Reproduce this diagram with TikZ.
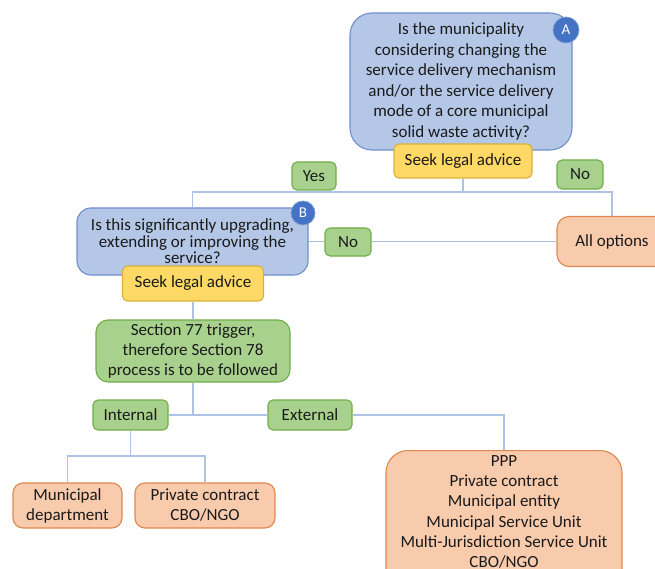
\documentclass[tikz,border=0pt]{standalone}
\usepackage{fontspec}
\setmainfont{Carlito}
\usetikzlibrary{backgrounds}
\definecolor{bfill}{HTML}{B4C7E7}
\definecolor{bdraw}{HTML}{6F8FCB}
\definecolor{cfill}{HTML}{4472C4}
\definecolor{yfill}{HTML}{FFD966}
\definecolor{ydraw}{HTML}{D9AE3A}
\definecolor{gfill}{HTML}{A9D18E}
\definecolor{gdraw}{HTML}{70AD47}
\definecolor{ofill}{HTML}{F8CBAD}
\definecolor{odraw}{HTML}{E0874F}
\definecolor{lcol}{HTML}{AEC2E6}
\definecolor{tcol}{HTML}{1A1A1A}
\tikzset{
  base/.style={draw, line width=1.1pt, inner sep=0pt, align=center, text=tcol,
    font=\fontsize{17}{20.5}\selectfont},
  bluebox/.style={base, fill=bfill, draw=bdraw},
  yelbox/.style={base, fill=yfill, draw=ydraw, rounded corners=5pt},
  grnbox/.style={base, fill=gfill, draw=gdraw},
  orgbox/.style={base, fill=ofill, draw=odraw},
  badge/.style={circle, fill=cfill, draw=cfill!70!white, line width=0.8pt, text=white,
    inner sep=0pt, font=\fontsize{15}{15}\selectfont},
  conn/.style={draw=lcol, line width=1.2pt},
}
\begin{document}
\begin{tikzpicture}[x=1pt,y=-1pt]
\useasboundingbox (0,0) rectangle (655,569);
\clip (0,0) rectangle (655,569);
% nodes
\node[bluebox, rounded corners=22pt, minimum width=222pt, minimum height=137pt] (A) at (461,81.5)
  {Is the municipality\\considering changing the\\service delivery mechanism\\and/or the service delivery\\mode of a core municipal\\solid waste activity?};
\node[badge, minimum size=26pt] (cA) at (566,30) {A};
\node[yelbox, minimum width=138pt, minimum height=34pt] (seekA) at (463,161) {Seek legal advice};
\node[grnbox, rounded corners=5pt, minimum width=44pt, minimum height=28pt] (yes) at (314,176) {Yes};
\node[grnbox, rounded corners=5pt, minimum width=46pt, minimum height=29pt] (noA) at (580,174.5) {No};
\node[bluebox, rounded corners=14pt, minimum width=231pt, minimum height=67pt,
  font=\fontsize{17}{16.5}\selectfont] (B) at (192.5,241.5)
  {Is this significantly upgrading,\\extending or improving the\\service?};
\node[badge, minimum size=24pt] (cB) at (303,213) {B};
\node[orgbox, rounded corners=12pt, minimum width=110pt, minimum height=50pt] (all) at (612,241.5) {All options};
\node[grnbox, rounded corners=5pt, minimum width=46pt, minimum height=28pt] (noB) at (348,242) {No};
\node[yelbox, minimum width=141pt, minimum height=35pt] (seekB) at (193,283.5) {Seek legal advice};
\node[grnbox, rounded corners=12pt, minimum width=194pt, minimum height=62pt,
  font=\fontsize{17}{20}\selectfont] (sec) at (193,351)
  {Section 77 trigger,\\therefore Section 78\\process is to be followed};
\node[grnbox, rounded corners=5pt, minimum width=75pt, minimum height=30pt] (int) at (130.5,415) {Internal};
\node[grnbox, rounded corners=5pt, minimum width=84pt, minimum height=30pt] (ext) at (310,415) {External};
\node[orgbox, rounded corners=10pt, minimum width=109pt, minimum height=45pt,
  font=\fontsize{17}{20}\selectfont] (mun) at (67.5,505.5)
  {Municipal\\department};
\node[orgbox, rounded corners=10pt, minimum width=140pt, minimum height=45pt,
  font=\fontsize{17}{20}\selectfont] (priv) at (205,505.5)
  {Private contract\\CBO/NGO};
\node[orgbox, rounded corners=22pt, minimum width=236pt, minimum height=140pt, anchor=north] (ppp) at (504,450) {};
\node[align=center, text=tcol, font=\fontsize{17}{20.3}\selectfont, anchor=north, inner sep=0pt] (ppptxt) at (504,455)
  {PPP\\Private contract\\Municipal entity\\Municipal Service Unit\\Multi-Jurisdiction Service Unit\\CBO/NGO};
% connectors
\begin{scope}[on background layer]
\coordinate (jA) at (463,192);
\coordinate (jS) at (193,415);
\coordinate (jI) at (130.5,456);
\draw[conn] (seekA.south) -- (jA);
\draw[conn] (B.north) |- (jA) -| (all.north);
\draw[conn] (B.east) -- (all.west);
\draw[conn] (seekB.south) -- (sec.north);
\draw[conn] (sec.south) -- (jS);
\draw[conn] (int.east) -- (ext.west);
\draw[conn] (ext.east) -| (ppp.north);
\draw[conn] (int.south) -- (jI);
\draw[conn] (mun.north) |- (jI) -| (priv.north);
\end{scope}
\end{tikzpicture}
\end{document}
